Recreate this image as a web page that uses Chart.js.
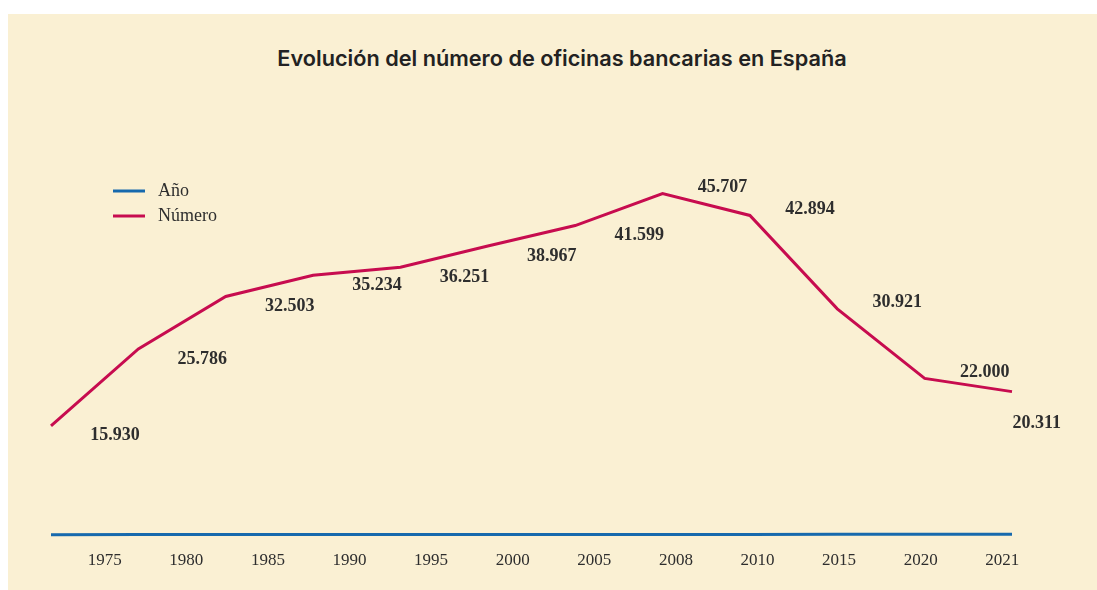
<!DOCTYPE html>
<html lang="es">
<head>
<meta charset="utf-8">
<title>Oficinas bancarias en España</title>
<script src="https://cdn.jsdelivr.net/npm/chart.js@4.4.1/dist/chart.umd.min.js"></script>
<style>
  html, body { margin: 0; padding: 0; background: #fff; }
  body { width: 1097px; height: 590px; position: relative; overflow: hidden; }
  .panel { position: absolute; left: 8px; top: 14px; width: 1089px; height: 576px; background: #faf0d3; }
  .chart-title {
    position: absolute; left: 212px; top: 46px; width: 700px; text-align: center;
    font-family: Inter, sans-serif; font-weight: 600; font-size: 21.7px; line-height: 24px; color: #222;
  }
  .chart-container { position: absolute; left: 8px; top: 14px; width: 1089px; height: 576px; }
</style>
</head>
<body>
<div class="panel"></div>
<div class="chart-title">Evolución del número de oficinas bancarias en España</div>
<div class="chart-container"><canvas id="oficinasChart"></canvas></div>
<script>
const YEARS = ["1975", "1980", "1985", "1990", "1995", "2000", "2005", "2008", "2010", "2015", "2020", "2021"];
const ANIO = [1975, 1980, 1985, 1990, 1995, 2000, 2005, 2008, 2010, 2015, 2020, 2021];
const NUMERO = [15930, 25786, 32503, 35234, 36251, 38967, 41599, 45707, 42894, 30921, 22000, 20311];

const BLUE = "#1669ad";
const RED = "#c70c4f";
const TEXT = "#2e2e2e";
const SERIF = "'Liberation Serif', serif";

const fmt = (v) => String(v).replace(/\B(?=(\d{3})+(?!\d))/g, ".");

// vertical legend, top-left inside the plot
const sideLegend = {
  id: "sideLegend",
  afterDraw(chart) {
    const { ctx } = chart;
    ctx.save();
    ctx.font = `18px ${SERIF}`;
    ctx.textBaseline = "middle";
    chart.data.datasets.forEach((ds, i) => {
      const y = 177 + i * 25;
      ctx.strokeStyle = ds.borderColor;
      ctx.lineWidth = 3;
      ctx.beginPath();
      ctx.moveTo(105, y);
      ctx.lineTo(137, y);
      ctx.stroke();
      ctx.fillStyle = TEXT;
      ctx.fillText(ds.label, 150, y);
    });
    ctx.restore();
  },
};

// value labels to the right of each point: below the line when it rises,
// above it when it falls, and further below for the last point
const valueLabels = {
  id: "valueLabels",
  afterDatasetsDraw(chart) {
    const { ctx } = chart;
    const meta = chart.getDatasetMeta(1);
    const last = meta.data.length - 1;
    ctx.save();
    ctx.font = `bold 18px ${SERIF}`;
    ctx.fillStyle = TEXT;
    ctx.textAlign = "center";
    ctx.textBaseline = "middle";
    meta.data.forEach((pt, i) => {
      const txt = fmt(NUMERO[i]);
      const w = ctx.measureText(txt).width;
      let dx = 64;
      let dy = 10;
      if (i === last) {
        dy = 32;
      } else if (NUMERO[i + 1] < NUMERO[i]) {
        dx = 60;
        dy = -6;
      }
      const x = Math.min(pt.x + dx, chart.width - 36 - w / 2);
      ctx.fillText(txt, x, pt.y + dy);
    });
    ctx.restore();
  },
};

const ctx = document.getElementById("oficinasChart").getContext("2d");

new Chart(ctx, {
  type: "line",
  data: {
    labels: YEARS,
    datasets: [
      {
        label: "Año",
        data: ANIO,
        borderColor: BLUE,
        borderWidth: 3,
        pointRadius: 0,
        tension: 0,
      },
      {
        label: "Número",
        data: NUMERO,
        borderColor: RED,
        borderWidth: 3,
        pointRadius: 0,
        tension: 0,
      },
    ],
  },
  options: {
    responsive: true,
    maintainAspectRatio: false,
    animation: false,
    layout: { padding: { left: 43, right: 85, top: 146, bottom: 13 } },
    plugins: {
      legend: { display: false },
      tooltip: { enabled: false },
      title: { display: false },
    },
    scales: {
      x: { type: "category", display: false },
      // separate axis only for the year labels under the plot
      x2: {
        type: "linear",
        position: "bottom",
        min: -0.658,
        max: 11.119,
        grid: { display: false, drawTicks: false },
        border: { display: false },
        afterBuildTicks: (axis) => {
          axis.ticks = YEARS.map((_, i) => ({ value: i }));
        },
        ticks: {
          autoSkip: false,
          maxRotation: 0,
          padding: 6,
          color: TEXT,
          font: { family: SERIF, size: 17 },
          callback: (v) => YEARS[v],
        },
      },
      y: {
        display: false,
        min: 700,
        max: 50000,
      },
    },
  },
  plugins: [sideLegend, valueLabels],
});
</script>
</body>
</html>
